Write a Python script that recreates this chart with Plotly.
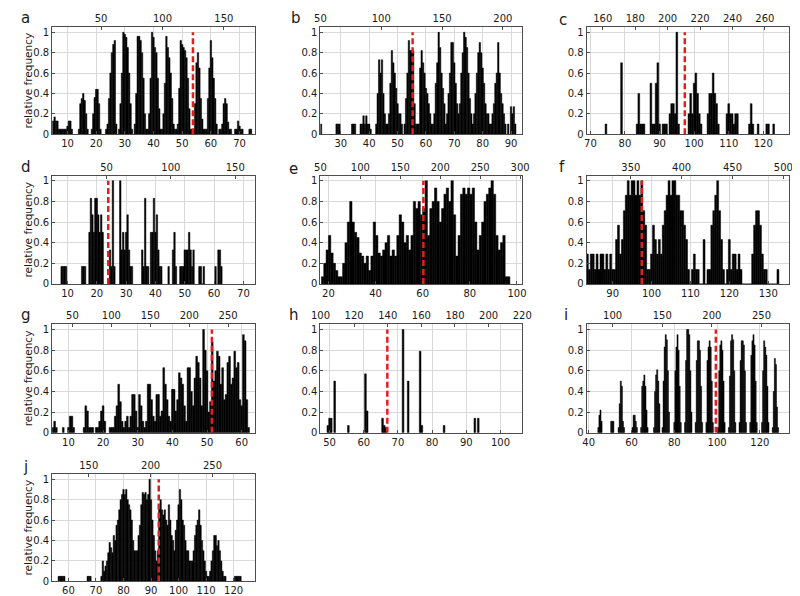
import plotly.graph_objects as go

# ---------------- data (relative-frequency histograms) ----------------
# each panel: bin width, run start positions, run heights (consecutive bins)
a_bin = 0.5
a_starts = [5.0, 14.0, 18.5, 23.5, 28.0, 33.5, 38.0, 43.0, 48.0, 53.5, 58.0, 63.0, 68.5, 73.5]
a_runs = [
    [0.13, 0.17, 0.13, 0.13, 0.05, 0.05, 0.05, 0.05, 0.05, 0.05, 0.08, 0.13, 0.13, 0.05],
    [0.05, 0.3, 0.35, 0.4, 0.33, 0.2, 0.05],
    [0.05, 0.2, 0.36, 0.44, 0.44, 0.3, 0.05],
    [0.05, 0.1, 0.35, 0.6, 0.8, 0.88, 0.92, 0.1],
    [0.05, 0.3, 0.6, 1.0, 0.98, 0.95, 0.85, 0.6, 0.3, 0.05],
    [0.1, 0.4, 0.96, 0.96, 0.92, 0.8, 0.55, 0.2, 0.05],
    [0.05, 0.2, 0.55, 1.0, 0.95, 0.85, 0.8, 0.55, 0.25, 0.05],
    [0.05, 0.2, 0.5, 0.96, 0.85, 0.75, 0.6, 0.35, 0.1, 0.05],
    [0.05, 0.1, 0.45, 0.92, 0.88, 0.85, 0.82, 0.75, 0.55, 0.25, 0.05],
    [0.05, 0.05, 0.3, 0.7, 0.8, 0.65, 0.35, 0.15, 0.05],
    [0.05, 0.05, 0.35, 0.65, 0.92, 0.75, 0.55, 0.35, 0.1],
    [0.05, 0.05, 0.1, 0.3, 0.35, 0.3, 0.12, 0.05, 0.05],
    [0.05, 0.05, 0.13, 0.08, 0.05, 0.05],
    [0.05, 0.05],
]

b_bin = 0.5
b_starts = [23.0, 28.5, 34.0, 37.0, 42.5, 47.0, 52.5, 57.0, 63.0, 67.5, 72.0, 77.0, 83.0, 89.0, 90.0]
b_runs = [
    [0.1],
    [0.1, 0.1, 0.1],
    [0.1, 0.1, 0.1],
    [0.1, 0.1, 0.18, 0.1, 0.18, 0.1, 0.1, 0.05],
    [0.1, 0.4, 0.73, 0.6, 0.73, 0.4, 0.2, 0.1, 0.1],
    [0.2, 0.5, 0.82, 0.7, 0.6, 0.45, 0.3, 0.2, 0.2, 0.1],
    [0.1, 0.35, 0.6, 0.92, 0.82, 0.82, 0.82, 0.3, 0.1],
    [0.1, 0.1, 0.65, 0.82, 0.7, 0.6, 0.45, 0.4, 0.3, 0.2, 0.1, 0.1],
    [0.2, 0.5, 0.7, 1.0, 0.85, 0.6, 0.45, 0.3, 0.1],
    [0.2, 0.4, 0.6, 0.9, 0.9, 0.7, 0.5, 0.3, 0.2],
    [0.3, 0.6, 0.8, 1.0, 0.95, 0.85, 0.6, 0.35, 0.2, 0.1],
    [0.2, 0.4, 0.6, 0.8, 0.9, 0.8, 0.65, 0.5, 0.3, 0.2, 0.2, 0.1],
    [0.1, 0.2, 0.3, 0.5, 0.6, 0.9, 0.6, 0.4, 0.3, 0.2, 0.1],
    [0.1],
    [0.27, 0.2, 0.27, 0.1],
]

c_bin = 0.5
c_starts = [74.5, 79.0, 83.5, 87.5, 91.0, 93.0, 98.5, 102.0, 104.0, 109.5, 116.0, 118.5, 121.0, 123.0]
c_runs = [
    [0.1],
    [0.7],
    [0.1, 0.4, 0.1, 0.1, 0.1],
    [0.5, 0.1, 0.1, 0.5, 0.7, 0.1],
    [0.1, 0.1, 0.1],
    [0.2, 0.3, 0.3, 0.2, 1.0, 0.1],
    [0.2, 0.4, 0.2, 0.5, 0.6, 0.4, 0.2],
    [0.1],
    [0.2, 0.4, 0.4, 0.6, 0.4, 0.3, 0.1],
    [0.2, 0.3, 0.2, 0.2, 0.1, 0.2, 0.2],
    [0.1, 0.3, 0.1],
    [0.1],
    [0.1, 0.1],
    [0.1],
]

d_bin = 0.5
d_starts = [8.0, 15.0, 17.5, 24.5, 28.0, 35.5, 38.5, 44.5, 46.0, 48.5, 50.0, 55.0, 60.5, 61.5]
d_runs = [
    [0.17, 0.17, 0.17, 0.17],
    [0.17, 0.17, 0.17],
    [0.5, 0.83, 0.67, 0.5, 0.83, 0.83, 0.67, 0.5, 0.67, 0.5],
    [0.33, 0.17, 1.0, 0.17],
    [1.0, 0.33, 0.5, 0.33, 0.5, 0.67, 0.33, 0.17, 0.17],
    [0.33, 0.17, 0.83, 0.17, 0.17],
    [0.5, 0.5, 0.83, 0.5, 0.67, 0.33, 0.17, 0.17],
    [0.17],
    [0.33, 0.5, 0.17],
    [0.17, 0.17, 0.17],
    [0.33, 0.33, 0.33, 0.5, 0.33, 0.17, 0.33],
    [0.17, 0.17, 0.0, 0.17],
    [0.17],
    [0.33, 0.33, 0.17],
]

e_bin = 1.0
e_starts = [17.5]
e_runs = [[
    0.07, 0.2, 0.33, 0.47, 0.3, 0.2, 0.13, 0.07, 0.07, 0.2,
    0.4, 0.6, 0.8, 0.6, 0.5, 0.45, 0.3, 0.27, 0.2, 0.27,
    0.13, 0.27, 0.6, 0.47, 0.3, 0.27, 0.33, 0.4, 0.47, 0.27,
    0.33, 0.27, 0.47, 0.67, 0.6, 0.4, 0.47, 0.33, 0.47, 0.8,
    0.73, 0.8, 0.67, 0.73, 1.0, 0.47, 0.73, 0.8, 0.93, 0.8,
    0.6, 0.73, 0.87, 0.93, 0.8, 1.0, 0.67, 0.27, 0.47, 0.87,
    0.93, 0.87, 0.93, 0.87, 0.93, 0.6, 0.33, 0.47, 0.6, 0.8,
    0.87, 0.93, 1.0, 0.87, 0.47, 0.33, 0.4, 0.47, 0.07, 0.07,
]]

f_bin = 0.5
f_starts = [83.5]
f_runs = [[
    0.29, 0.14, 0.29, 0.29, 0.14, 0.29, 0.14, 0.29, 0.29, 0.14,
    0.29, 0.14, 0.29, 0.14, 0.14, 0.43, 0.57, 0.29, 0.43, 0.71,
    0.86, 1.0, 0.86, 1.0, 1.0, 0.86, 1.0, 0.86, 1.0, 0.71,
    0.57, 0.14, 0.14, 0.29, 0.57, 0.43, 0.29, 0.43, 0.29, 0.57,
    0.71, 0.86, 1.0, 0.86, 1.0, 1.0, 0.86, 0.86, 0.71, 0.71,
    0.57, 0.43, 0.14, 0.0, 0.14, 0.29, 0.14, 0.14, 0.0, 0.0,
    0.43, 0.0, 0.14, 0.14, 0.57, 0.71, 0.86, 1.0, 0.71, 0.43,
    0.14, 0.0, 0.14, 0.43, 0.14, 0.29, 0.29, 0.14, 0.29, 0.14,
    0.0, 0.0, 0.0, 0.0, 0.0, 0.29, 0.57, 0.71, 0.71, 0.57,
    0.29, 0.14, 0.14, 0.0, 0.0, 0.0, 0.0, 0.0, 0.14,
]]

g_bin = 0.5
g_starts = [5.5, 8.5, 10.0, 14.5, 18.0, 22.0, 28.0]
g_runs = [
    [0.05, 0.11, 0.05],
    [0.05],
    [0.05, 0.16, 0.16, 0.05],
    [0.05, 0.26, 0.21, 0.05, 0.05, 0.05],
    [0.05, 0.05, 0.11, 0.21, 0.26, 0.11],
    [0.05, 0.05, 0.05, 0.16, 0.26, 0.47, 0.3, 0.11, 0.05, 0.11, 0.16, 0.05],
    [0.16, 0.37, 0.37, 0.21, 0.05, 0.37, 0.26, 0.11, 0.05, 0.11,
     0.47, 0.47, 0.32, 0.16, 0.11, 0.37, 0.37, 0.16, 0.21, 0.63,
     0.47, 0.32, 0.16, 0.11, 0.42, 0.42, 0.21, 0.32, 0.58, 0.53,
     0.47, 0.26, 0.11, 0.63, 0.63, 0.4, 0.26, 0.53, 0.74, 0.68,
     0.53, 0.26, 1.0, 0.8, 0.6, 0.2, 0.3, 0.88, 0.5, 0.6,
     0.79, 0.74, 0.47, 0.63, 0.32, 0.37, 0.68, 0.74, 0.47, 0.53,
     0.79, 0.63, 0.68, 0.32, 0.26, 0.95, 0.89, 0.32, 0.05],
]

h_bin = 0.5
h_starts = [49.5, 51.5, 55.5, 60.5, 65.5, 71.5, 73.0, 76.5, 83.5, 92.5, 93.5]
h_runs = [
    [0.07, 0.14, 0.14],
    [0.5],
    [0.07],
    [0.57, 0.21],
    [0.14, 0.07, 0.05],
    [1.0],
    [0.5],
    [0.79, 0.07],
    [0.07],
    [0.14],
    [0.14],
]

i_bin = 0.5
i_starts = [44.5, 50.5, 54.0, 60.5, 64.5, 70.5, 74.5, 80.0, 85.0, 90.0, 95.0,
            100.5, 105.5, 110.5, 115.5, 121.0, 126.0]
i_runs = [
    [0.05, 0.17, 0.22, 0.11],
    [0.11, 0.11, 0.11],
    [0.05, 0.28, 0.5, 0.45, 0.11, 0.05],
    [0.05, 0.17, 0.17, 0.11, 0.05],
    [0.05, 0.45, 0.5, 0.56, 0.45, 0.22, 0.05],
    [0.05, 0.4, 0.56, 0.61, 0.5, 0.28],
    [0.05, 0.5, 0.83, 0.95, 0.9, 0.6, 0.2],
    [0.1, 0.6, 0.83, 0.95, 0.8, 0.45, 0.1],
    [0.1, 0.7, 1.0, 1.0, 0.95, 0.6, 0.2],
    [0.1, 0.7, 0.89, 0.89, 0.8, 0.45, 0.1],
    [0.1, 0.7, 0.83, 0.89, 0.83, 0.5, 0.1],
    [0.05, 0.6, 0.85, 0.89, 0.8, 0.5, 0.1],
    [0.05, 0.55, 0.89, 0.95, 0.9, 0.6, 0.1],
    [0.1, 0.7, 0.89, 0.89, 0.85, 0.6, 0.1],
    [0.1, 0.75, 0.89, 0.95, 0.85, 0.5, 0.1],
    [0.1, 0.6, 0.89, 0.83, 0.75, 0.45, 0.1],
    [0.05, 0.4, 0.72, 0.66, 0.25, 0.05],
]

j_bin = 0.5
j_starts = [56.5, 67.0, 72.0, 120.5]
j_runs = [
    [0.05, 0.05, 0.05, 0.05, 0.05],
    [0.05, 0.05, 0.05],
    [0.05, 0.2, 0.1, 0.15, 0.2, 0.28, 0.38, 0.33, 0.28, 0.45,
     0.4, 0.55, 0.6, 0.7, 0.8, 0.85, 0.9, 0.85, 0.9, 0.8,
     0.75, 0.7, 0.6, 0.4, 0.3, 0.3, 0.3, 0.45, 0.55, 0.75,
     0.87, 0.85, 0.87, 0.8, 0.85, 1.0, 0.8, 0.6, 0.45, 0.3,
     0.2, 0.3, 0.75, 0.8, 0.7, 0.65, 0.7, 0.6, 0.55, 0.75,
     0.6, 0.45, 0.4, 0.3, 0.5, 0.6, 0.75, 0.9, 0.8, 0.6,
     0.55, 0.4, 0.3, 0.3, 0.2, 0.2, 0.2, 0.3, 0.45, 0.55,
     0.6, 0.7, 0.55, 0.4, 0.3, 0.2, 0.1, 0.05, 0.05, 0.1,
     0.2, 0.3, 0.45, 0.45, 0.35, 0.4, 0.3, 0.2, 0.1, 0.05,
     0.05],
    [0.05, 0.05, 0.05, 0.05, 0.05],
]

# panel letters, vertical marker positions, axis ranges and tick steps
panel_labels = ["a", "b", "c", "d", "e", "f", "g", "h", "i", "j"]
marker_pos = [53.75, 55.3, 97.3, 23.9, 60.3, 97.5, 51.4, 66.9, 99.4, 92.8]
bottom_ranges = [[4.66, 75.33], [22.76, 94.0], [68.9, 127.5], [4.78, 73.9], [16.55, 102.3],
                 [83.3, 135.4], [5.3, 63.8], [47.3, 106.4], [39.0, 133.7], [54.1, 127.7]]
bottom_dticks = [10, 10, 10, 10, 20, 10, 10, 10, 20, 10]
top_ranges = [[10.2, 175.2], [49.9, 216.0], [150.0, 275.0], [7.8, 165.2], [49.9, 302.8],
              [306.5, 505.8], [24.0, 284.3], [99.9, 220.1], [73.8, 277.9], [120.5, 284.2]]
top_dticks = [50, 50, 20, 50, 50, 50, 50, 20, 50, 50]

bins = [a_bin, b_bin, c_bin, d_bin, e_bin, f_bin, g_bin, h_bin, i_bin, j_bin]
starts = [a_starts, b_starts, c_starts, d_starts, e_starts, f_starts, g_starts, h_starts, i_starts, j_starts]
runs = [a_runs, b_runs, c_runs, d_runs, e_runs, f_runs, g_runs, h_runs, i_runs, j_runs]

# ---------------- layout geometry ----------------
W, H = 800, 596
col_px = [(36.0, 243.3), (310.3, 517.0), (582.7, 790.0)]
row_px = [(19.3, 127.3), (169.0, 278.3), (319.0, 428.3), (470.0, 578.3)]
letter_px = [(9, 10), (285, 10), (559, 12), (9, 160), (283, 162), (558, 160),
             (9, 310), (283, 310), (562, 310), (9, 463)]

FONT = "DejaVu Sans"
GRID = "#d9d9d9"
FRAME = "#4d4d4d"
TXT = "#1a1a1a"
RED = "#e0201f"


def expand(st, rn, dx):
    xs, ys = [], []
    for s, r in zip(st, rn):
        for n, hgt in enumerate(r):
            xs.append(s + n * dx)
            ys.append(hgt)
    return xs, ys


def ax(kind, k):
    return kind if k == 1 else f"{kind}{k}"


fig = go.Figure()
layout = dict(
    width=W, height=H, margin=dict(l=0, r=0, t=0, b=0),
    paper_bgcolor="white", plot_bgcolor="white",
    font=dict(family=FONT, size=10, color=TXT),
    showlegend=False, barmode="overlay",
)
annotations = []
shapes = []

for idx in range(10):
    k = idx + 1
    kt = k + 10
    col = idx % 3
    row = idx // 3
    x0p, x1p = col_px[col]
    y0p, y1p = row_px[row]
    xdom = [x0p / W, x1p / W]
    ydom = [1 - y1p / H, 1 - y0p / H]

    xs, ys = expand(starts[idx], runs[idx], bins[idx])
    fig.add_trace(go.Bar(
        x=xs, y=ys, width=bins[idx],
        marker=dict(color="black", line=dict(width=0.5, color="black")),
        xaxis=ax("x", k), yaxis=ax("y", k), hoverinfo="skip",
    ))
    fig.add_trace(go.Scatter(
        x=[None], y=[None], mode="markers",
        xaxis=ax("x", kt), yaxis=ax("y", k), hoverinfo="skip",
    ))

    common = dict(showline=True, linecolor=FRAME, linewidth=1, ticks="inside",
                  ticklen=3, tickcolor=FRAME, tickfont=dict(size=10, family=FONT, color=TXT),
                  zeroline=False, fixedrange=True)
    layout["xaxis" if k == 1 else f"xaxis{k}"] = dict(
        domain=xdom, range=bottom_ranges[idx], anchor=ax("y", k),
        tick0=0, dtick=bottom_dticks[idx], showgrid=True, gridcolor=GRID, gridwidth=1,
        side="bottom", **common)
    layout[f"xaxis{kt}"] = dict(
        domain=xdom, range=top_ranges[idx], anchor=ax("y", k), overlaying=ax("x", k),
        tick0=0, dtick=top_dticks[idx], showgrid=False, side="top", **common)
    layout["yaxis" if k == 1 else f"yaxis{k}"] = dict(
        domain=ydom, range=[0, 1.05], anchor=ax("x", k), tick0=0, dtick=0.2,
        showgrid=True, gridcolor=GRID, gridwidth=1, mirror=True, **common)

    shapes.append(dict(
        type="line", xref=ax("x", k), yref=ax("y", k),
        x0=marker_pos[idx], x1=marker_pos[idx], y0=0, y1=1.0,
        line=dict(color=RED, width=2.5, dash="6px,3px"), layer="above"))

    lx, ly = letter_px[idx]
    annotations.append(dict(
        x=lx / W, y=1 - ly / H, xref="paper", yref="paper", text=panel_labels[idx],
        showarrow=False, xanchor="center", yanchor="middle",
        font=dict(size=15, family=FONT, color=TXT)))

    if col == 0:
        annotations.append(dict(
            x=11 / W, y=1 - (y0p + y1p) / 2 / H, xref="paper", yref="paper",
            text="relative frequency", textangle=-90, showarrow=False,
            xanchor="center", yanchor="middle",
            font=dict(size=10.5, family=FONT, color=TXT)))

layout["annotations"] = annotations
layout["shapes"] = shapes
fig.update_layout(**layout)

fig.write_html("out.html")
